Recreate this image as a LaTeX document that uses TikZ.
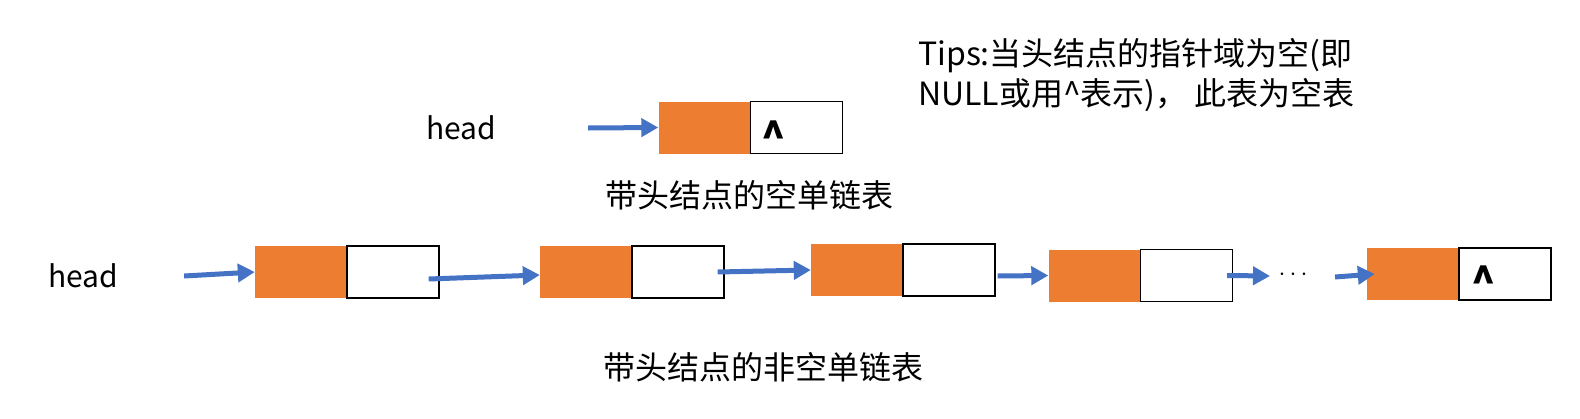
\documentclass[tikz,border=0pt]{standalone}
\usepackage{fontspec}
\setmainfont{Noto Sans CJK SC}
\usetikzlibrary{arrows.meta}
\usetikzlibrary{positioning}
\definecolor{nodeorange}{HTML}{ED7D31}
\definecolor{linkblue}{HTML}{4472C4}

\begin{document}
\begin{tikzpicture}[x=1pt,y=-1pt,
        datafield/.style={fill=nodeorange,minimum width=91pt,minimum height=52pt,inner sep=0pt},
        ptrfield/.style={draw=black,line width=1.5pt,fill=white,minimum width=92pt,minimum height=52pt,inner sep=0pt},
        link/.style={draw=linkblue,line width=5pt,-{Triangle[length=17pt,width=18pt]}},
        txt/.style={font=\fontsize{32}{40}\selectfont,inner sep=0pt},
        nil/.style={font=\fontsize{40}{40}\selectfont\bfseries,inner sep=0pt}]
    \useasboundingbox (0,0) rectangle (1580,418);

        % empty list
        \node[txt,font=\fontsize{30}{40}\selectfont] (head0) at (461,128) {head};
        \node[datafield] (d0) at (704,127.5) {};
        \node[ptrfield,right=0pt of d0] (p0) {};
        \node[nil] (nil0) at ([xshift=24pt,yshift=-9pt]p0.west) {\textasciicircum};
        \draw[link] ([xshift=92pt]head0.east) -- (d0.west);
        \node[txt] (cap0) at (749,195) {带头结点的空单链表};

        \node[txt,anchor=north west,align=left] (tips) at (918,38) {Tips:当头结点的指针域为空(即\\NULL或用\textasciicircum 表示)，\ 此表为空表};

        % non-empty list
        \node[txt,font=\fontsize{30}{40}\selectfont] (head1) at (83,276) {head};
        \node[datafield] (d1) at (300.5,272) {};
        \node[ptrfield,right=0pt of d1] (p1) {};
        \node[datafield] (d2) at (585.5,272) {};
        \node[ptrfield,right=0pt of d2] (p2) {};
        \node[datafield] (d3) at (856.5,270) {};
        \node[ptrfield,right=0pt of d3] (p3) {};
        \node[datafield] (d4) at (1094,275.5) {};
        \node[ptrfield,right=0pt of d4] (p4) {};
        \node[font=\fontsize{24}{24}\selectfont,inner sep=0pt] (dots) at (1293,275) {$\cdots$};
        \node[datafield] (d5) at (1412.5,274) {};
        \node[ptrfield,right=0pt of d5] (p5) {};
        \node[nil] (nil5) at ([xshift=25pt,yshift=-7pt]p5.west) {\textasciicircum};

        \draw[link] ([xshift=66pt]head1.east) -- (d1.west);
        \draw[link] ([xshift=-11pt,yshift=-7pt]p1.east) -- ([yshift=-3pt]d2.west);
        \draw[link] ([xshift=-7pt]p2.east) -- (d3.west);
        \draw[link] ([xshift=2pt,yshift=-6pt]p3.east) -- (d4.west);
        \draw[link] ([xshift=-6pt]p4.east) -- ([xshift=-23pt,yshift=-1pt]dots.center);
        \draw[link] ([xshift=42pt,yshift=-2pt]dots.center) -- ([xshift=8pt]d5.west);
        \node[txt] (cap1) at (763,367) {带头结点的非空单链表};

\end{tikzpicture}
\end{document}
